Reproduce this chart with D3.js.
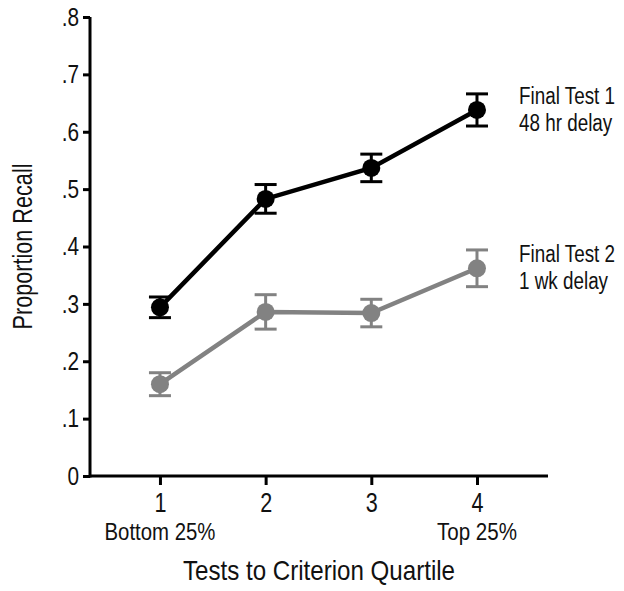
<!DOCTYPE html>
<html><head><meta charset="utf-8">
<script src="https://cdn.jsdelivr.net/npm/d3@7"></script>
<style>
body{margin:0;background:#fff;}
svg text{font-family:"Liberation Sans",Arial,sans-serif;fill:#111;}
</style></head><body>
<svg id="c" width="624" height="591"></svg>
<script>
const quartiles = [1, 2, 3, 4];
const quartileLabels = {1: "Bottom 25%", 4: "Top 25%"};
const yTicks = [0, 0.1, 0.2, 0.3, 0.4, 0.5, 0.6, 0.7, 0.8];
const test1Mean = [0.294, 0.483, 0.537, 0.638];
const test1Err  = [0.018, 0.025, 0.024, 0.028];
const test2Mean = [0.160, 0.286, 0.284, 0.362];
const test2Err  = [0.020, 0.030, 0.024, 0.032];
const seriesNames = [["Final Test 1", "48 hr delay"], ["Final Test 2", "1 wk delay"]];
const seriesColors = ["#000000", "#828282"];

const svg = d3.select("#c");
const x = d3.scaleLinear().domain([0.338, 4.672]).range([90, 548]);
const y = d3.scaleLinear().domain([0, 0.8]).range([476, 17]);

function condense(sel, f) {
  sel.each(function () {
    const w = this.getComputedTextLength();
    d3.select(this).attr("textLength", w * f).attr("lengthAdjust", "spacingAndGlyphs");
  });
}

// axes
const yAxis = d3.axisLeft(y).tickValues(yTicks).tickSize(7).tickPadding(4)
  .tickFormat(d => d === 0 ? "0" : d3.format(".1f")(d).replace(/^0/, ""));
const gy = svg.append("g").attr("transform", `translate(${x.range()[0]},0)`).call(yAxis);
gy.attr("font-family", null);
gy.select(".domain").attr("stroke", "#000").attr("stroke-width", 3).attr("d", `M0,${y(0) + 1.5}V${y(0.8)}`);
gy.selectAll(".tick line").attr("stroke", "#000").attr("stroke-width", 3);
gy.selectAll(".tick text").attr("font-size", 26).attr("fill", "#111").call(condense, 0.8);

const xAxis = d3.axisBottom(x).tickValues(quartiles).tickSize(9).tickPadding(8).tickFormat(d3.format("d"));
const gx = svg.append("g").attr("transform", `translate(0,${y(0)})`).call(xAxis);
gx.attr("font-family", null);
gx.select(".domain").attr("stroke", "#000").attr("stroke-width", 3).attr("d", `M${x.range()[0]},0H${x.range()[1]}`);
gx.selectAll(".tick line").attr("stroke", "#000").attr("stroke-width", 3);
gx.selectAll(".tick text").attr("font-size", 27).attr("fill", "#111").call(condense, 0.8);

// sub labels
const subW = {1: 111, 4: 80};
svg.selectAll(".sub").data(quartiles.filter(q => quartileLabels[q])).enter().append("text")
  .attr("class", "sub").attr("x", d => x(d)).attr("y", 540).attr("text-anchor", "middle")
  .attr("font-size", 24).text(d => quartileLabels[d])
  .attr("textLength", d => subW[d]).attr("lengthAdjust", "spacingAndGlyphs");

// axis titles
svg.append("text").attr("x", 319).attr("y", 580).attr("text-anchor", "middle")
  .attr("font-size", 28).text("Tests to Criterion Quartile")
  .attr("textLength", 272).attr("lengthAdjust", "spacingAndGlyphs");
svg.append("text").attr("transform", `translate(32,${y(0.4)}) rotate(-90)`).attr("text-anchor", "middle")
  .attr("font-size", 28).text("Proportion Recall")
  .attr("textLength", 166).attr("lengthAdjust", "spacingAndGlyphs");

// series
const series = [
  {mean: test1Mean, err: test1Err, color: seriesColors[0], names: seriesNames[0]},
  {mean: test2Mean, err: test2Err, color: seriesColors[1], names: seriesNames[1]}
];
const line = d3.line().x((d, i) => x(quartiles[i])).y(d => y(d));
series.forEach(s => {
  const g = svg.append("g");
  g.append("path").datum(s.mean).attr("d", line).attr("fill", "none")
    .attr("stroke", s.color).attr("stroke-width", 4.5);
  const eb = g.selectAll(".eb").data(s.mean).enter().append("g");
  eb.append("line").attr("x1", (d, i) => x(quartiles[i])).attr("x2", (d, i) => x(quartiles[i]))
    .attr("y1", (d, i) => y(d - s.err[i])).attr("y2", (d, i) => y(d + s.err[i]))
    .attr("stroke", s.color).attr("stroke-width", 3);
  [-1, 1].forEach(sign => {
    eb.append("line").attr("x1", (d, i) => x(quartiles[i]) - 11).attr("x2", (d, i) => x(quartiles[i]) + 11)
      .attr("y1", (d, i) => y(d + sign * s.err[i])).attr("y2", (d, i) => y(d + sign * s.err[i]))
      .attr("stroke", s.color).attr("stroke-width", 3);
  });
  eb.append("circle").attr("cx", (d, i) => x(quartiles[i])).attr("cy", d => y(d)).attr("r", 9)
    .attr("fill", s.color);
  const last = s.mean[s.mean.length - 1];
  const lg = svg.append("g").attr("transform", `translate(519,${y(last)}) scale(0.82,1)`);
  s.names.forEach((n, k) => {
    lg.append("text").attr("x", 0).attr("y", -6 + k * 27)
      .attr("font-size", 23).text(n);
  });
});
</script></body></html>
